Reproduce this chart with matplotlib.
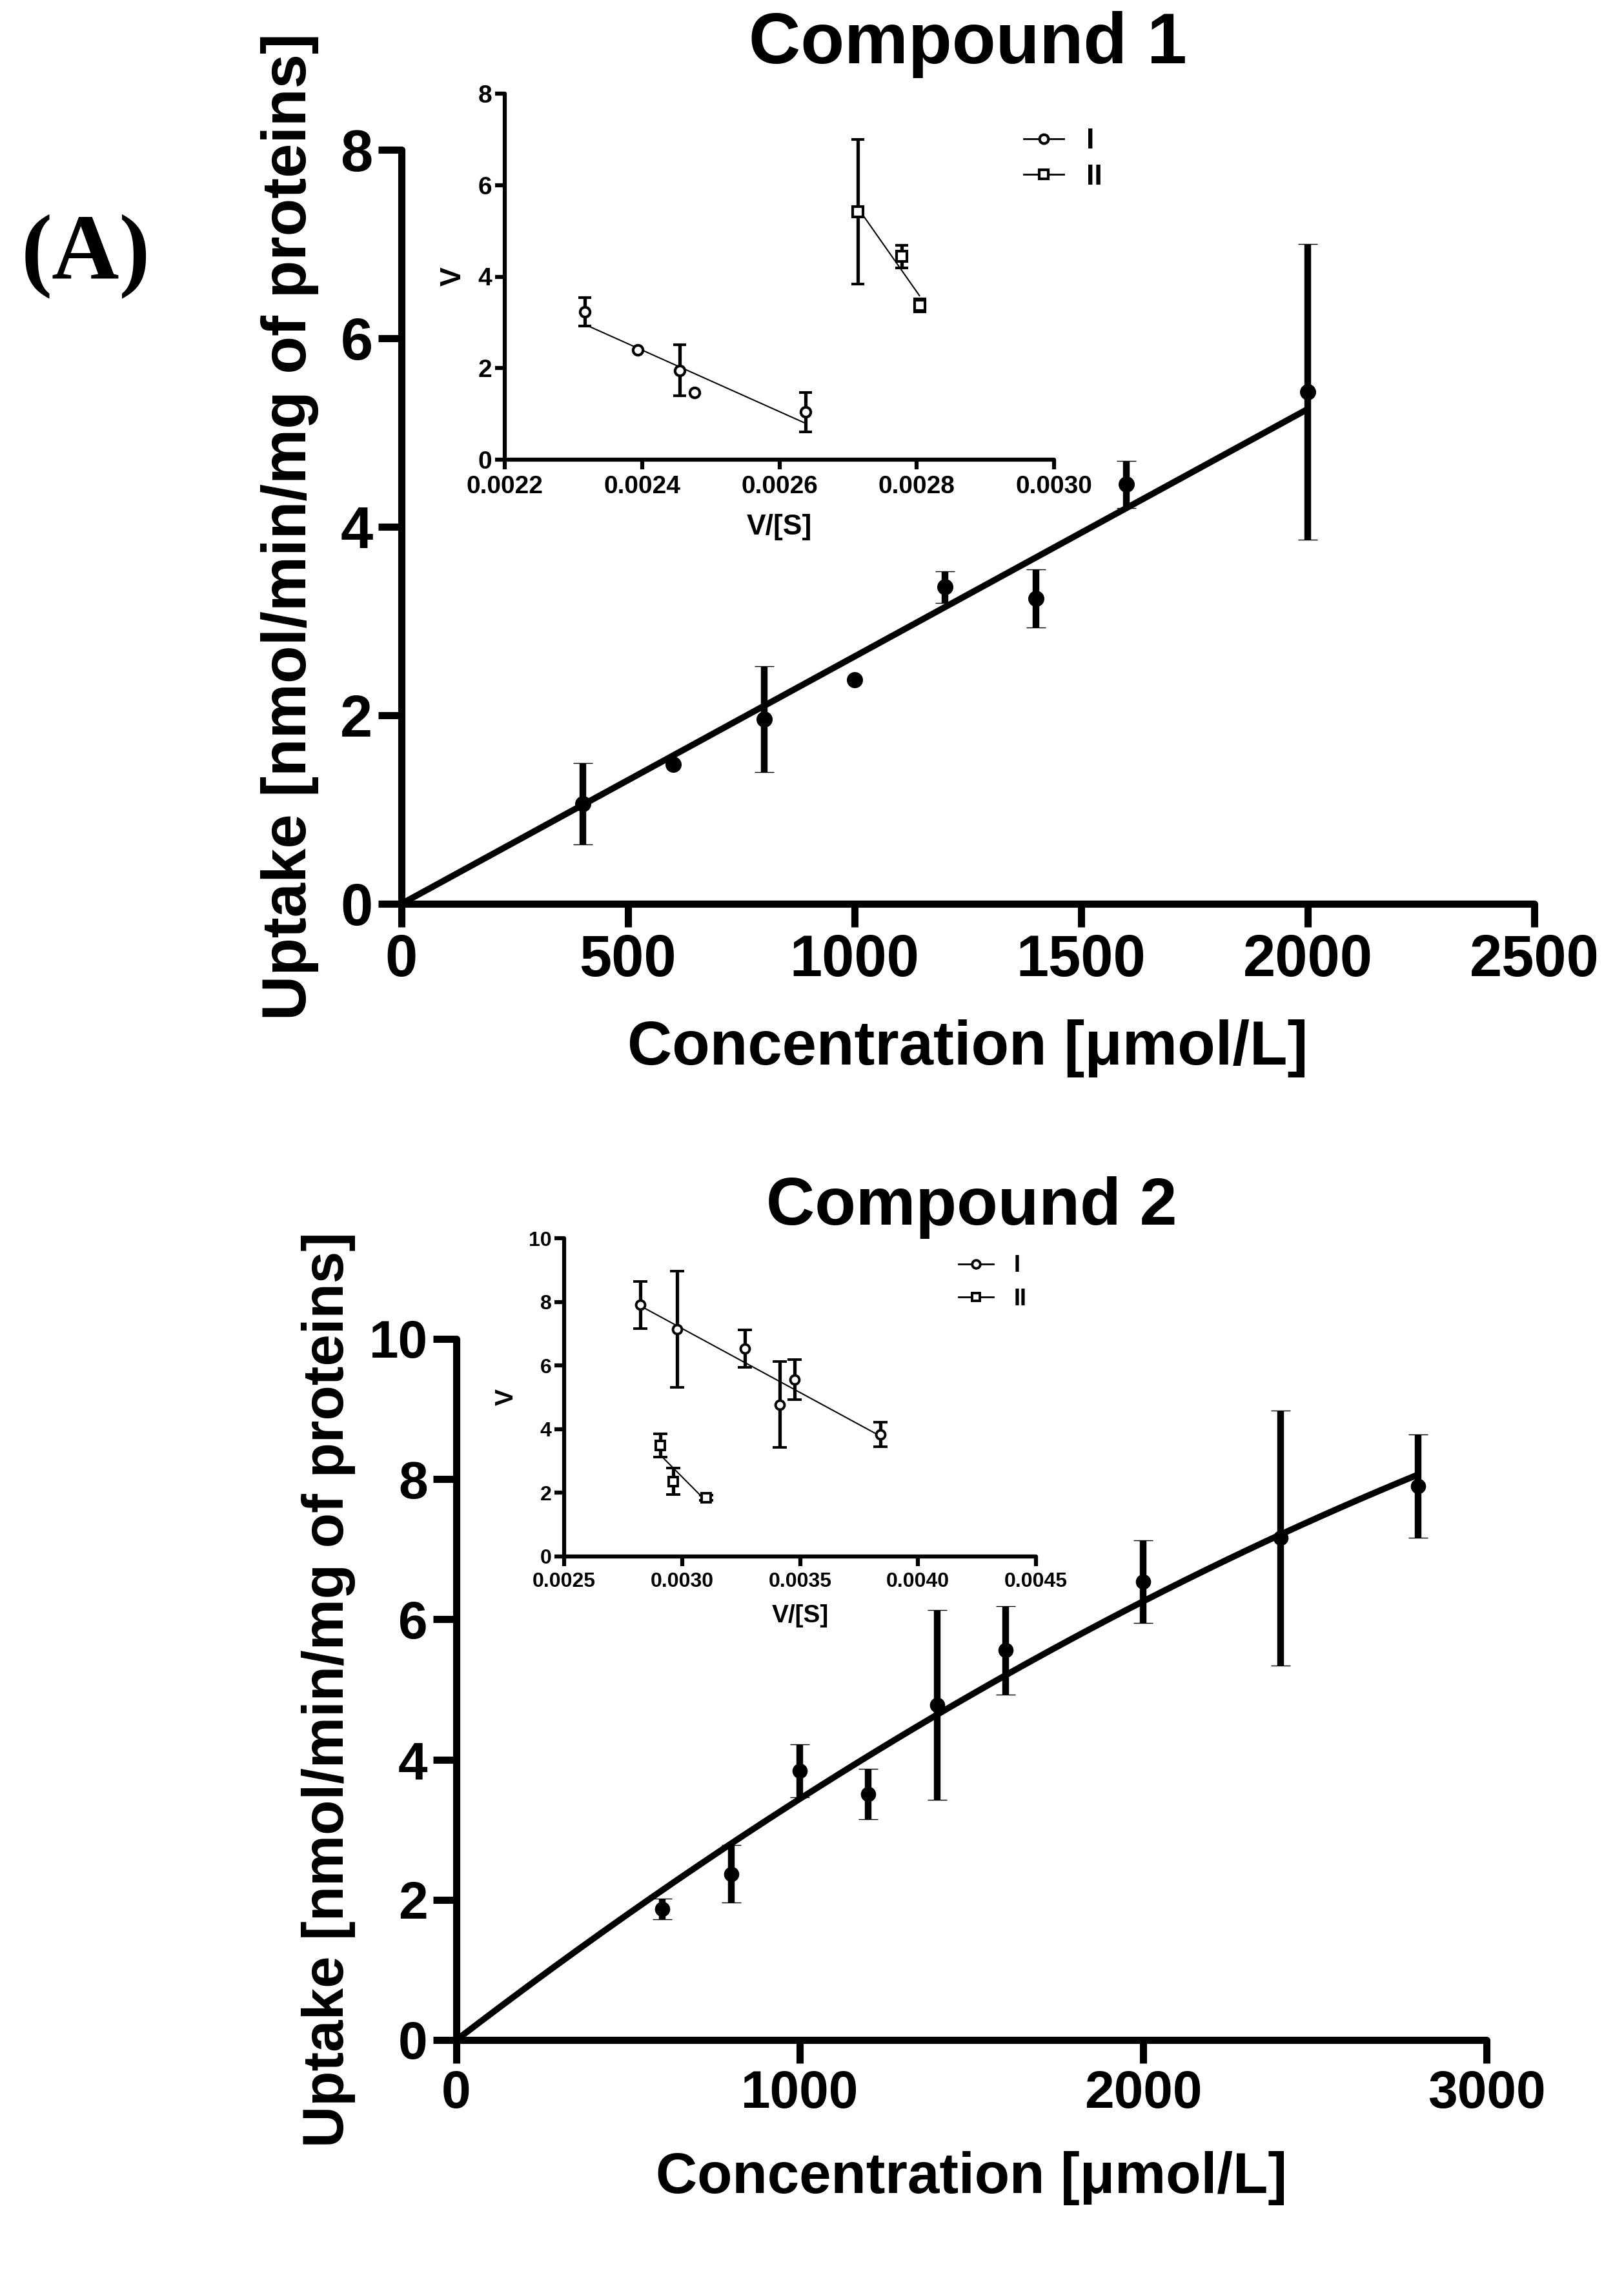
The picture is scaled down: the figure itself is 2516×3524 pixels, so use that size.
import numpy as np
import matplotlib
matplotlib.use("Agg")
import matplotlib.pyplot as plt
from matplotlib.lines import Line2D

plt.rcParams['font.family'] = ['Liberation Sans', 'DejaVu Sans']
plt.rcParams['font.weight'] = 'bold'

# ---------------- data ----------------
# Compound 1 main plot
conc1 = [400, 600, 800, 1000, 1200, 1400, 1600, 2000]
uptake1 = [1.06, 1.48, 1.96, 2.38, 3.36, 3.24, 4.45, 5.43]
sem1 = [0.43, np.nan, 0.56, np.nan, 0.17, 0.31, 0.25, 1.57]

# Compound 1 inset (Eadie-Hofstee)
ins1_I_x = [0.002317, 0.002394, 0.002455, 0.002476, 0.002638]
ins1_I_v = [3.23, 2.40, 1.95, 1.47, 1.04]
ins1_I_err = [0.31, np.nan, 0.56, np.nan, 0.43]
ins1_II_x = [0.002714, 0.002778, 0.002804]
ins1_II_v = [5.42, 4.44, 3.37]
ins1_II_err = [1.58, 0.25, 0.14]

# Compound 2 main plot
conc2 = [600, 800, 1000, 1200, 1400, 1600, 2000, 2400, 2800]
uptake2 = [1.87, 2.37, 3.84, 3.51, 4.78, 5.56, 6.54, 7.16, 7.90]
sem2 = [0.15, 0.41, 0.38, 0.36, 1.35, 0.63, 0.59, 1.82, 0.74]

# Compound 2 inset
ins2_I_x = [0.002823, 0.002980, 0.003265, 0.003414, 0.003478, 0.003841]
ins2_I_v = [7.91, 7.14, 6.53, 4.77, 5.55, 3.83]
ins2_I_err = [0.74, 1.83, 0.59, 1.35, 0.63, 0.39]
ins2_II_x = [0.002907, 0.002963, 0.003103]
ins2_II_v = [3.49, 2.36, 1.85]
ins2_II_err = [0.36, 0.41, 0.08]

series_labels = ['I', 'II']

xticks1 = [0, 500, 1000, 1500, 2000, 2500]
yticks1 = [0, 2, 4, 6, 8]
xticks2 = [0, 1000, 2000, 3000]
yticks2 = [0, 2, 4, 6, 8, 10]
ins1_xticks = [0.0022, 0.0024, 0.0026, 0.0028, 0.0030]
ins1_yticks = [0, 2, 4, 6, 8]
ins2_xticks = [0.0025, 0.0030, 0.0035, 0.0040, 0.0045]
ins2_yticks = [0, 2, 4, 6, 8, 10]

xlabel = 'Concentration [\u03bcmol/L]'
ylabel = 'Uptake [nmol/min/mg of proteins]'

W, H = 2516, 3524
fig = plt.figure(figsize=(W / 100, H / 100), dpi=100)


def rect(l, t, r, b):
    return [l / W, 1 - b / H, (r - l) / W, (b - t) / H]


def style_axes(ax, lw, ticklen, tickfs, padx, pady):
    for s in ['top', 'right']:
        ax.spines[s].set_visible(False)
    for s in ['left', 'bottom']:
        ax.spines[s].set_linewidth(lw)
        ax.spines[s].set_capstyle('round')
    ax.tick_params(axis='both', direction='out', length=ticklen, width=lw,
                   labelsize=tickfs, color='k')
    ax.tick_params(axis='x', pad=padx)
    ax.tick_params(axis='y', pad=pady)
    for lab in ax.get_xticklabels() + ax.get_yticklabels():
        lab.set_fontweight('bold')


def main_panel(ax, x, y, e, xticks, yticks, title, title_y, xl_y, yl_x,
               fs_title, fs_label, fs_tick, ms, fitdeg):
    ax.errorbar(x, y, yerr=e, fmt='o', color='k', ms=ms, mew=1,
                elinewidth=7.5, capsize=11, capthick=7.5, clip_on=False,
                zorder=3)
    xa = np.asarray(x, float)
    ya = np.asarray(y, float)
    # least-squares fit through the origin
    A = np.column_stack([xa ** k for k in range(1, fitdeg + 1)])
    coef, *_ = np.linalg.lstsq(A, ya, rcond=None)
    xf = np.linspace(0, xa.max(), 200)
    yf = sum(c * xf ** (k + 1) for k, c in enumerate(coef))
    ax.plot(xf, yf, color='k', lw=7, solid_capstyle='round', clip_on=False,
            zorder=2)
    ax.set_xlim(xticks[0], xticks[-1])
    ax.set_ylim(yticks[0], yticks[-1])
    ax.set_xticks(xticks)
    ax.set_yticks(yticks)
    style_axes(ax, 8, 26, fs_tick, 7, 6)
    ax.set_title(title, fontsize=fs_title, fontweight='bold', y=title_y,
                 pad=0, va='baseline')
    ax.set_xlabel(xlabel, fontsize=fs_label, fontweight='bold', va='top')
    ax.xaxis.set_label_coords(0.5, xl_y)
    ax.set_ylabel(ylabel, fontsize=fs_label, fontweight='bold')
    ax.yaxis.set_label_coords(yl_x, 0.5)


def inset_panel(ax, sI, sII, xticks, yticks, fs_tick, fs_label, fs_leg,
                ms, mew, cap, xl_y, yl_x, leg_anchor, handlelen, textpad,
                labsp, fmt):
    for (xs, vs, es), mk in zip([sI, sII], ['o', 's']):
        ax.errorbar(xs, vs, yerr=es, fmt=mk, color='k', mfc='white', mec='k',
                    ms=ms, mew=mew, elinewidth=3.8, capsize=cap,
                    capthick=3.8, clip_on=False, zorder=3)
        p = np.polyfit(xs, vs, 1)
        xf = np.array([min(xs), max(xs)])
        ax.plot(xf, np.polyval(p, xf), color='k', lw=1.5, zorder=2,
                clip_on=False)
    ax.set_xlim(xticks[0], xticks[-1])
    ax.set_ylim(yticks[0], yticks[-1])
    ax.set_xticks(xticks)
    ax.set_xticklabels([fmt.format(t) for t in xticks])
    ax.set_yticks(yticks)
    style_axes(ax, 4.5, 11, fs_tick, 6, 3)
    ax.set_xlabel('V/[S]', fontsize=fs_label, fontweight='bold', va='top')
    ax.xaxis.set_label_coords(0.5, xl_y)
    ax.set_ylabel('V', fontsize=fs_label, fontweight='bold')
    ax.yaxis.set_label_coords(yl_x, 0.5)
    ax.patch.set_alpha(0)
    handles = [Line2D([], [], color='k', lw=2, marker=m, mfc='white',
                      mec='k', ms=ms * 0.9, mew=mew) for m in ['o', 's']]
    leg = ax.legend(handles, series_labels, loc='upper left',
                    bbox_to_anchor=leg_anchor, frameon=False,
                    fontsize=fs_leg, handlelength=handlelen,
                    handletextpad=textpad, labelspacing=labsp,
                    borderpad=0, borderaxespad=0)
    for t in leg.get_texts():
        t.set_fontweight('bold')


# ---------------- Compound 1 ----------------
ax1 = fig.add_axes(rect(622, 232, 2377, 1400))
main_panel(ax1, conc1, uptake1, sem1, xticks1, yticks1, 'Compound 1',
           1.1147, -0.153, -0.073, 80, 69, 65, 17, 1)

ins1 = fig.add_axes(rect(782, 145, 1633, 712))
inset_panel(ins1, (ins1_I_x, ins1_I_v, ins1_I_err),
            (ins1_II_x, ins1_II_v, ins1_II_err), ins1_xticks, ins1_yticks,
            28, 32, 32, 11, 3, 7.5, -0.148, -0.07, (0.945, 0.906),
            1.38, 0.8, 0.33, '{:.4f}')

# ---------------- Compound 2 ----------------
ax2 = fig.add_axes(rect(707, 2074, 2303, 3160))
main_panel(ax2, conc2, uptake2, sem2, xticks2, yticks2, 'Compound 2',
           1.163, -0.158, -0.0977, 75, 64, 59, 16, 2)

ins2 = fig.add_axes(rect(874, 1918, 1605, 2411))
inset_panel(ins2, (ins2_I_x, ins2_I_v, ins2_I_err),
            (ins2_II_x, ins2_II_v, ins2_II_err), ins2_xticks, ins2_yticks,
            23, 28, 26, 10, 2.8, 8, -0.150, -0.097, (0.836, 0.949),
            1.5, 0.86, 0.47, '{:.4f}')

# panel letter
fig.text(133 / W, 1 - 431 / H, '(A)', fontsize=104, fontweight='bold',
         family=['Liberation Serif', 'DejaVu Serif'], ha='center',
         va='baseline')

fig.savefig('out.png', dpi=100)
